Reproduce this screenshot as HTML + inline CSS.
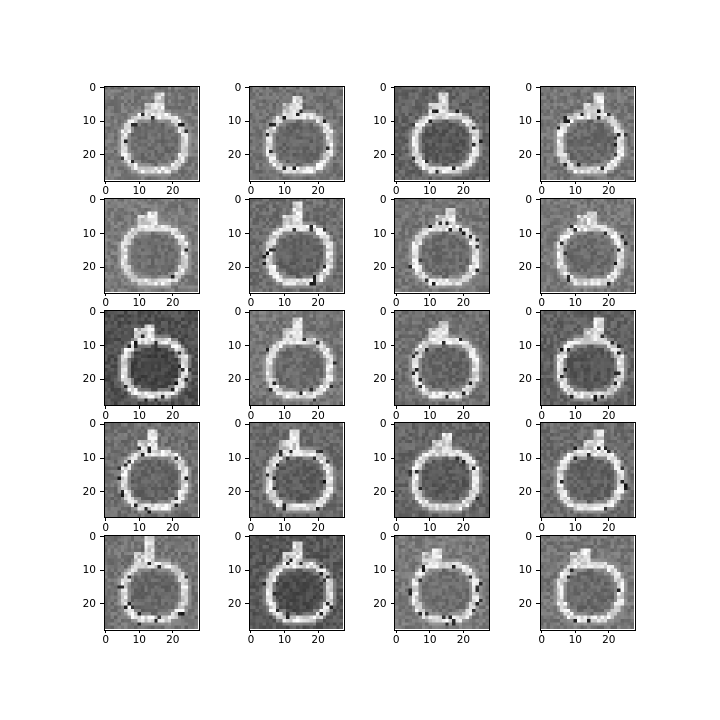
<!DOCTYPE html>
<html><head><meta charset="utf-8"><style>
body{margin:0;background:#fff;}
#fig{position:relative;width:720px;height:720px;background:#fff;font-family:"DejaVu Sans","Liberation Sans",sans-serif;font-size:10.5px;color:#000;}
.panel{position:absolute;width:94px;height:94px;}
.panel canvas{position:absolute;left:0;top:0;width:94px;height:94px;image-rendering:pixelated;}
.frame{position:absolute;left:-0.5px;top:-0.5px;width:94px;height:94px;border:1px solid #000;box-sizing:content-box;pointer-events:none;}
.tick{position:absolute;background:#000;}
.lbl{position:absolute;line-height:10px;white-space:nowrap;}
</style></head><body>
<div id="fig"></div>
<script>
// panel data
const bgLevels=[120,115,100,118,122,110,118,120,80,118,112,98,112,105,102,108,116,88,122,118];
const stemX=[16,14,14,17,14,14,16,15,13,14,14,17,14,13,15,17,13,14,12,13];
const stemLen=[6,5,6,6,4,7,5,4,4,6,5,6,6,6,5,6,8,6,4,4];
const tickVals=[0,10,20];
const colX=[104,249.3,394.6,540];
const rowY=[86,198.25,310.5,422.75,535];
const S=94, N=28, px=S/N;
function hash(a,b,c){let h=(a*374761393+b*668265263+c*2147483647)|0;h=(h^(h>>>13))*1274126177|0;return ((h^(h>>>16))>>>0)/4294967295;}
const fig=document.getElementById('fig');
for(let p=0;p<20;p++){
  const r=Math.floor(p/4), c=p%4;
  const panel=document.createElement('div');
  panel.className='panel';
  
  
  panel.style.left=colX[c]+'px';panel.style.top=rowY[r]+'px';
  const cv=document.createElement('canvas');cv.width=N;cv.height=N;
  const ctx=cv.getContext('2d');const img=ctx.createImageData(N,N);
  const bg=bgLevels[p];
  for(let y=0;y<N;y++)for(let x=0;x<N;x++){
    const dx=Math.abs(x-14.5)/9.5, dy=Math.abs(y-16.5)/8.8;
    const d=Math.pow(Math.pow(dx,2.4)+Math.pow(dy,2.4),1/2.4);
    let v=bg+(hash(x,y,p)-0.5)*40;
    if(d<0.85) v=bg-12+(hash(y,x,p)-0.5)*34;
    const ring=Math.abs(d-0.95);
    if(ring<0.11) v=185+hash(x+1,y,p)*70;
    else if(ring<0.21) v=(v+170)/2;
    const sx=stemX[p];
    if(Math.abs(x-sx)<=1.2 && y>=8-stemLen[p] && y<=8) v=180+hash(x,y+3,p)*75;
    if(Math.abs(x-sx+2)<=2.5 && y>=5 && y<=8) v=Math.max(v,160+hash(x,y,p+3)*80);
    if(hash(x,y,p+7)>0.94 && d>0.78 && d<1.15) v=15+hash(x,y,p+9)*50;
    v=Math.max(0,Math.min(255,v));
    const i=(y*N+x)*4;img.data[i]=img.data[i+1]=img.data[i+2]=v;img.data[i+3]=255;
  }
  ctx.putImageData(img,0,0);
  panel.appendChild(cv);
  const fr=document.createElement('div');fr.className='frame';
  
  
  panel.appendChild(fr);
  tickVals.forEach(t=>{
    const pos=(t+0.5)*px;
    const ty=document.createElement('div');ty.className='tick';
    
    
    ty.style.cssText=`left:-4px;top:${pos-0.5}px;width:3.5px;height:1px;`;panel.appendChild(ty);
    const ly=document.createElement('div');ly.className='lbl';
    
    
    ly.textContent=t;ly.style.right=(S+8)+'px';ly.style.top=(pos-5)+'px';panel.appendChild(ly);
    const tx=document.createElement('div');tx.className='tick';
    
    
    tx.style.cssText=`left:${pos-0.5}px;top:${S+0.5}px;width:1px;height:3.5px;`;panel.appendChild(tx);
    const lx=document.createElement('div');lx.className='lbl';
    
    
    lx.textContent=t;lx.style.left=pos+'px';lx.style.top=(S+6)+'px';lx.style.transform='translateX(-50%)';panel.appendChild(lx);
  });
  fig.appendChild(panel);
}
</script>
</body></html>
